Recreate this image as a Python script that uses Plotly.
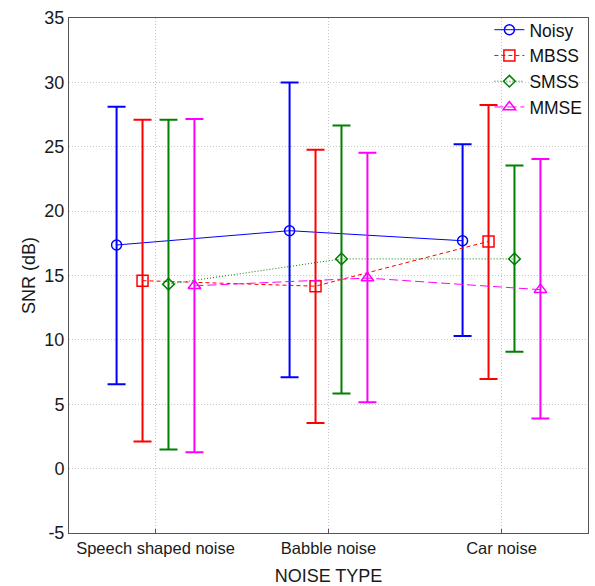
import plotly.graph_objects as go

categories = ["Speech shaped noise", "Babble noise", "Car noise"]
series = ["Noisy", "MBSS", "SMSS", "MMSE"]
means = {
    "Noisy": [17.37, 18.48, 17.7],
    "MBSS": [14.6, 14.17, 17.65],
    "SMSS": [14.33, 16.29, 16.29],
    "MMSE": [14.2, 14.8, 13.9],
}
upper = {
    "Noisy": [28.1, 30.0, 25.2],
    "MBSS": [27.1, 24.77, 28.25],
    "SMSS": [27.1, 26.66, 23.55],
    "MMSE": [27.15, 24.53, 24.05],
}
lower = {
    "Noisy": [6.56, 7.1, 10.31],
    "MBSS": [2.1, 3.54, 6.97],
    "SMSS": [1.48, 5.84, 9.08],
    "MMSE": [1.27, 5.16, 3.9],
}
y_ticks = [-5, 0, 5, 10, 15, 20, 25, 30, 35]
y_tick_labels = ["-5", "0", "5", "10", "15", "20", "25", "30", "35"]

colors = {"Noisy": "#0000FF", "MBSS": "#FF0000", "SMSS": "#008000", "MMSE": "#FF00FF"}
symbols = {"Noisy": "circle-open", "MBSS": "square-open", "SMSS": "diamond-open", "MMSE": "triangle-up-open"}
sizes = {"Noisy": 10, "MBSS": 11, "SMSS": 9, "MMSE": 11}
dashes = {"Noisy": "solid", "MBSS": "4px,3px", "SMSS": "1px,2px", "MMSE": "9px,4px"}
offsets = {"Noisy": -0.225, "MBSS": -0.075, "SMSS": 0.075, "MMSE": 0.225}

fig = go.Figure()
for s in series:
    xs = [i + 1 + offsets[s] for i in range(len(categories))]
    m = means[s]
    fig.add_trace(go.Scatter(
        x=xs, y=m, name=s, mode="lines+markers",
        line=dict(color=colors[s], width=1, dash=dashes[s]),
        marker=dict(symbol=symbols[s], size=sizes[s], color=colors[s],
                    line=dict(width=1.5, color=colors[s])),
        error_y=dict(type="data", symmetric=False,
                     array=[u - v for u, v in zip(upper[s], m)],
                     arrayminus=[v - l for v, l in zip(m, lower[s])],
                     color=colors[s], thickness=2, width=9),
    ))

fig.update_layout(
    width=595, height=586,
    margin=dict(l=69, r=7, t=18, b=53),
    paper_bgcolor="white", plot_bgcolor="white",
    font=dict(family="Liberation Sans, Arial, sans-serif", size=16, color="#1a1a1a"),
    showlegend=True,
    legend=dict(x=0.81, y=1.012, xanchor="left", yanchor="top",
                bgcolor="rgba(0,0,0,0)", font=dict(size=17.5, color="#111111"),
                tracegroupgap=0, itemwidth=30),
    xaxis=dict(
        range=[0.5, 3.5], tickvals=[1, 2, 3], ticktext=categories,
        showline=True, linecolor="#555555", linewidth=1, mirror=True,
        ticks="inside", ticklen=4, tickcolor="#555555",
        showgrid=True, gridcolor="#c8c8c8", griddash="1px,2px", gridwidth=1,
        zeroline=False, tickfont=dict(size=16.5), automargin=False,
        title=dict(text="NOISE TYPE", font=dict(size=18), standoff=14),
    ),
    yaxis=dict(
        range=[-5, 35], tickvals=y_ticks, ticktext=y_tick_labels,
        showline=True, linecolor="#555555", linewidth=1, mirror=True,
        ticks="", showgrid=True, gridcolor="#c8c8c8", griddash="1px,2px", gridwidth=1,
        zeroline=False, tickfont=dict(size=18), automargin=False,
        title=dict(text="SNR (dB)", font=dict(size=18), standoff=4),
    ),
)

fig.write_html("out.html", config={"displayModeBar": False},
               post_script="document.body.style.margin='0';")
